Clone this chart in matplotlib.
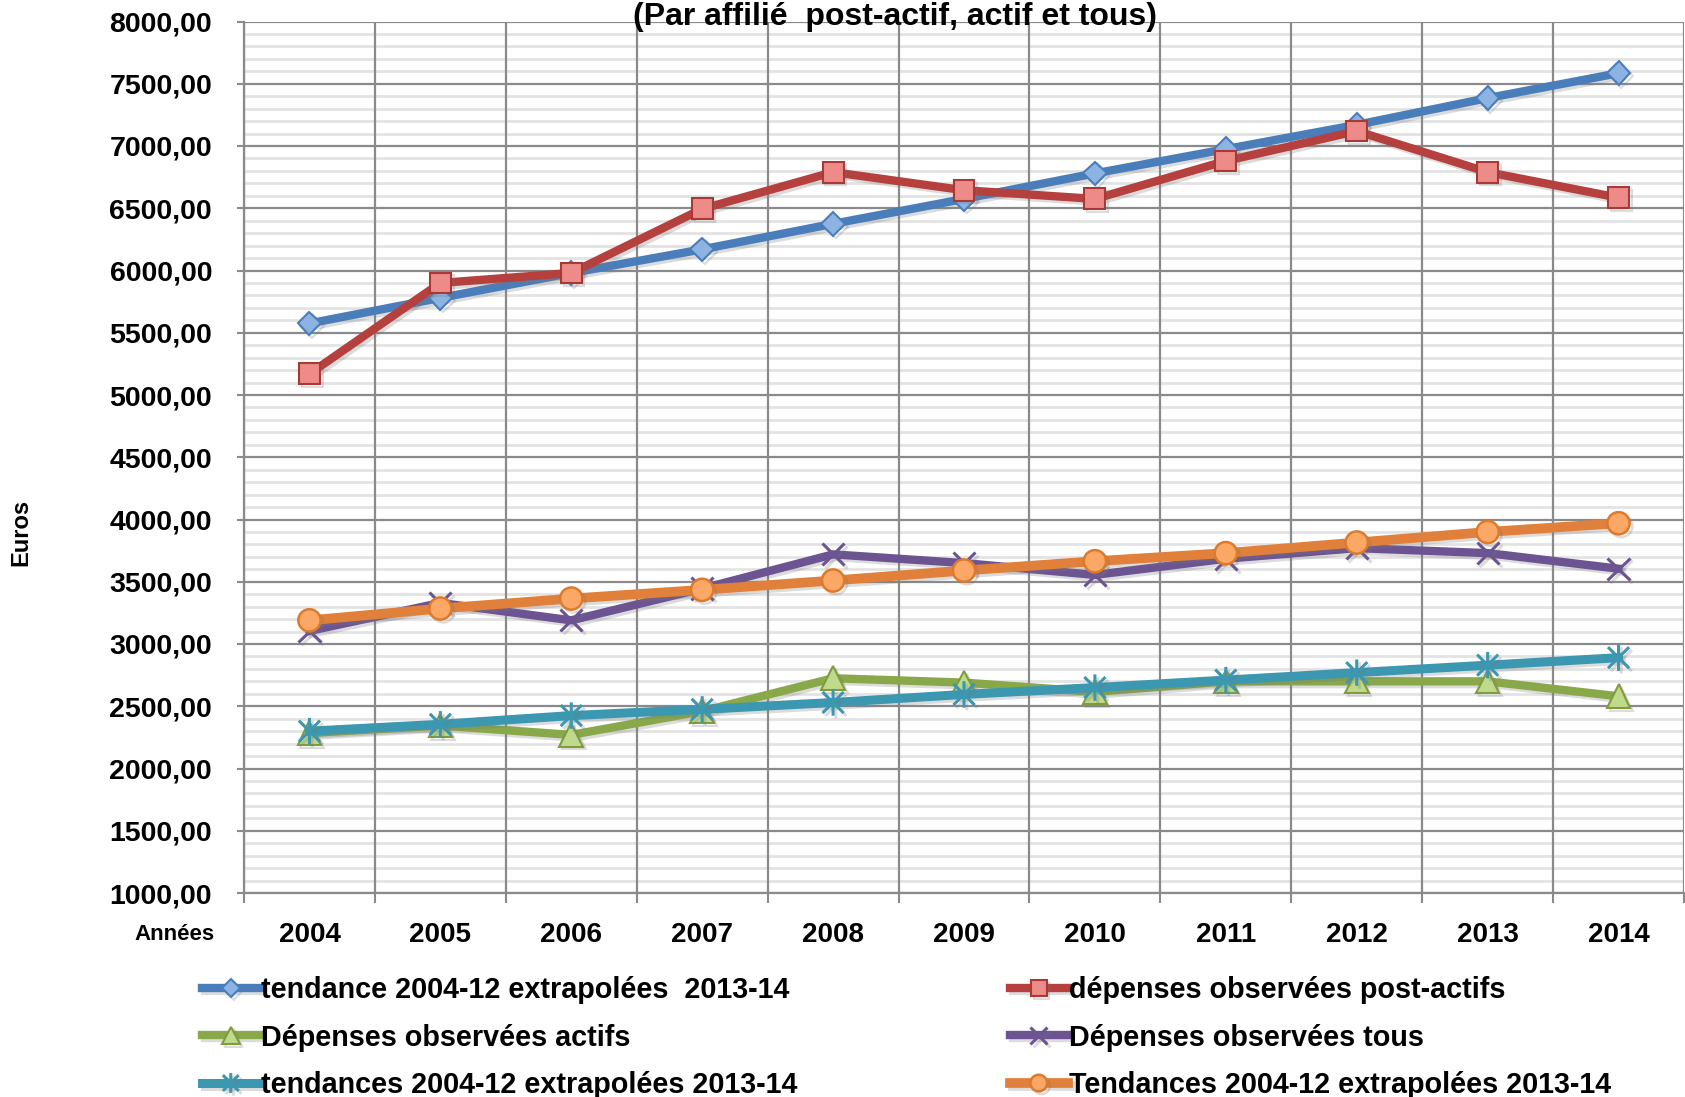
import matplotlib
matplotlib.use("Agg")
import matplotlib.pyplot as plt
import matplotlib.patheffects as pe
from matplotlib.path import Path
from matplotlib.ticker import MultipleLocator, FixedLocator, FuncFormatter

plt.rcParams['font.family'] = ['Liberation Sans', 'DejaVu Sans']
plt.rcParams['font.weight'] = 'bold'

# données
annees = ['2004', '2005', '2006', '2007', '2008', '2009', '2010', '2011', '2012', '2013', '2014']
tendance_post = [5575, 5780, 5980, 6170, 6375, 6575, 6780, 6975, 7170, 7385, 7585]
obs_post = [5170, 5900, 5980, 6495, 6790, 6645, 6575, 6880, 7120, 6790, 6585]
obs_actifs = [2285, 2345, 2270, 2460, 2725, 2690, 2615, 2700, 2700, 2700, 2580]
obs_tous = [3105, 3330, 3190, 3445, 3720, 3650, 3555, 3685, 3770, 3730, 3605]
tendance_actifs = [2300, 2355, 2425, 2475, 2530, 2595, 2650, 2710, 2770, 2830, 2890]
tendance_tous = [3190, 3285, 3365, 3435, 3510, 3590, 3665, 3730, 3815, 3900, 3970]

labels = ['tendance 2004-12 extrapolées  2013-14',
          'dépenses observées post-actifs',
          'Dépenses observées actifs',
          'Dépenses observées tous',
          'tendances 2004-12 extrapolées 2013-14',
          'Tendances 2004-12 extrapolées 2013-14']

# astérisque façon Excel
etoile = Path([(0, -1), (0, 1), (-0.8, -0.8), (0.8, 0.8), (-0.8, 0.8), (0.8, -0.8)],
              [Path.MOVETO, Path.LINETO, Path.MOVETO, Path.LINETO, Path.MOVETO, Path.LINETO])

ombre = [pe.SimpleLineShadow(offset=(2, -2), shadow_color='#777777', alpha=0.25), pe.Normal()]

fig = plt.figure(figsize=(16.85, 10.97), dpi=100)
ax = fig.add_axes([244 / 1685, 1 - 893 / 1097, 1440 / 1685, (893 - 21.5) / 1097])

x = list(range(len(annees)))

l1, = ax.plot(x, tendance_post, color='#4A7EBB', lw=6, marker='D', ms=12,
              mfc='#8DB3E2', mec='#4A7EBB', mew=1.5, label=labels[0], zorder=3)
l2, = ax.plot(x, obs_post, color='#B5403D', lw=6, marker='s', ms=15,
              mfc='#EC8B88', mec='#A83936', mew=1.5, label=labels[1], zorder=3)
l3, = ax.plot(x, obs_actifs, color='#89A84A', lw=6, marker='^', ms=17,
              mfc='#BFDA8A', mec='#7F9D3F', mew=1.5, label=labels[2], zorder=3)
l4, = ax.plot(x, obs_tous, color='#6C5392', lw=6, marker='x', ms=16,
              mec='#6C5392', mew=2.2, label=labels[3], zorder=3)
l5, = ax.plot(x, tendance_actifs, color='#3C97B0', lw=6.5, marker=etoile, ms=19,
              mfc='none', mec='#3C97B0', mew=2.2, label=labels[4], zorder=3)
l6, = ax.plot(x, tendance_tous, color='#E0803A', lw=7, marker='o', ms=16,
              mfc='#FBA866', mec='#DE7A2C', mew=1.8, label=labels[5], zorder=3)
for ln in (l1, l2, l3, l4, l5, l6):
    ln.set_path_effects(ombre)

ax.set_xlim(-0.5, len(annees) - 0.5)
ax.set_ylim(1000, 8000)

# grille
ax.yaxis.set_major_locator(MultipleLocator(500))
ax.yaxis.set_minor_locator(MultipleLocator(100))
ax.yaxis.set_major_formatter(FuncFormatter(lambda v, p: f'{v:.2f}'.replace('.', ',')))
ax.xaxis.set_major_locator(FixedLocator([i - 0.5 for i in range(len(annees) + 1)]))
ax.xaxis.set_minor_locator(FixedLocator(x))
ax.xaxis.set_major_formatter(FuncFormatter(lambda v, p: ''))
ax.xaxis.set_minor_formatter(FuncFormatter(lambda v, p: annees[int(round(v))]))

ax.grid(True, which='major', color='#8A8A8A', lw=1.6)
ax.grid(True, which='minor', axis='y', color='#E3E3E3', lw=2)
ax.set_axisbelow(True)
ax.yaxis.set_zorder(0.5)
ax.xaxis.set_zorder(0.6)

ax.tick_params(axis='y', which='major', length=5, width=1.5, color='#8A8A8A', labelsize=20.5, pad=18)
ax.tick_params(axis='y', which='minor', length=0)
ax.tick_params(axis='x', which='major', length=7, width=1.5, color='#8A8A8A')
ax.tick_params(axis='x', which='minor', length=0, labelsize=20, pad=21)

for s in ['top', 'right']:
    ax.spines[s].set_visible(False)
for s in ['left', 'bottom']:
    ax.spines[s].set_color('#8A8A8A')
    ax.spines[s].set_linewidth(1.6)

fig.text(895 / 1685, 1 - 25 / 1097, '(Par affilié  post-actif, actif et tous)',
         ha='center', va='baseline', fontsize=23, fontweight='bold')
fig.text(21 / 1685, 1 - 532 / 1097, 'Euros', rotation=90, ha='center', va='center',
         fontsize=17, fontweight='bold')
fig.text(215 / 1685, 1 - 934 / 1097, 'Années', ha='right', va='center',
         fontsize=16, fontweight='bold')

leg_kw = dict(loc='upper left', frameon=False, fontsize=20.7, handlelength=2.0,
              handletextpad=0.05, labelspacing=0.68, borderpad=0, borderaxespad=0,
              numpoints=1, markerscale=0.75)
leg1 = fig.legend([l1, l3, l5], [labels[0], labels[2], labels[4]],
                  bbox_to_anchor=(202 / 1685, 1 - 976 / 1097), **leg_kw)
leg2 = fig.legend([l2, l4, l6], [labels[1], labels[3], labels[5]],
                  bbox_to_anchor=(1010 / 1685, 1 - 976 / 1097), **leg_kw)

fig.savefig('out.png', dpi=100)
